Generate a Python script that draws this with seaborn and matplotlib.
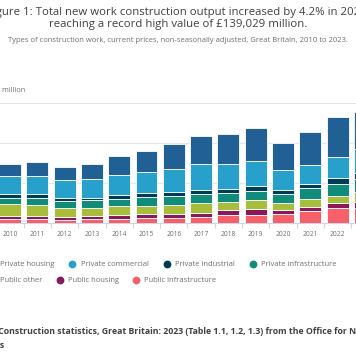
import matplotlib
matplotlib.use('Agg')
import matplotlib.pyplot as plt
from matplotlib.lines import Line2D
from matplotlib.ticker import FixedLocator
import pandas as pd
import seaborn as sns

# new work output, current prices, £ million
years = list(range(2010, 2024))
private_housing = [14600, 16700, 15900, 18300, 23800, 26250, 30800, 35000, 37900, 41250, 33300, 41700, 49600, 46800]
private_commercial = [23300, 23300, 22100, 23300, 25400, 27000, 29200, 32500, 31250, 31700, 25000, 23750, 26250, 29250]
private_industrial = [4200, 4200, 3700, 2900, 5000, 4200, 4600, 4600, 5000, 5800, 4600, 4600, 7900, 7900]
private_infrastructure = [7900, 9200, 9500, 9600, 8750, 11700, 11250, 12000, 11250, 11700, 11250, 14200, 14200, 16700]
public_other = [15000, 13300, 11200, 10000, 11250, 10400, 10800, 12100, 10000, 11250, 9200, 10000, 9500, 11700]
public_housing = [4100, 4200, 3000, 4200, 5000, 4600, 5000, 5400, 6700, 7100, 5000, 5000, 6250, 7500]
public_infrastructure = [4600, 5000, 4200, 5000, 5000, 6250, 6700, 7100, 9600, 10400, 11250, 15000, 18300, 19200]

series = ['Private housing', 'Private commercial', 'Private industrial',
          'Private infrastructure', 'Public other', 'Public housing',
          'Public infrastructure']
colors = ['#206095', '#27a0cc', '#003c57', '#118c7b', '#a8bd3a', '#871a5b', '#f66068']
y_ticks = [0, 50000, 100000, 150000]

df = pd.DataFrame({'year': years,
                   'Private housing': private_housing,
                   'Private commercial': private_commercial,
                   'Private industrial': private_industrial,
                   'Private infrastructure': private_infrastructure,
                   'Public other': public_other,
                   'Public housing': public_housing,
                   'Public infrastructure': public_infrastructure})
long = df.melt(id_vars='year', var_name='type', value_name='value')

sns.set_theme(style='white')
plt.rcParams['font.family'] = ['Open Sans', 'DejaVu Sans']

W, H = 356, 364
fig = plt.figure(figsize=(W / 100, H / 100), dpi=100)
# the picture is a crop of a wider chart: axes run past both edges
ax = fig.add_axes([-3.65 / W, (H - 223) / H, 382.2 / W, 120 / H])

sns.histplot(data=long, x='year', weights='value', hue='type',
             hue_order=series, palette=colors, multiple='stack',
             discrete=True, shrink=0.8, alpha=1, edgecolor='white',
             linewidth=0.6, legend=False, ax=ax, zorder=3)

ax.set_xlim(years[0] - 0.5, years[-1] + 0.5)
ax.set_ylim(0, 150000)
ax.set_xlabel('')
ax.set_ylabel('')
ax.set_xticks(years)
ax.set_xticklabels([str(y) for y in years])
ax.xaxis.set_minor_locator(FixedLocator([y - 0.5 for y in years] + [years[-1] + 0.5]))
ax.tick_params(axis='x', which='major', length=0, pad=5.5, labelsize=4.8, labelcolor='#707070')
ax.tick_params(axis='x', which='minor', length=3.6, width=0.8, color='#ccd6eb', bottom=True)
ax.set_yticks(y_ticks)
ax.tick_params(axis='y', length=0, labelleft=False)
ax.grid(axis='y', color='#e6e6e6', linewidth=0.8, zorder=0)
ax.set_axisbelow(True)
for s in ['top', 'right', 'left']:
    ax.spines[s].set_visible(False)
ax.spines['bottom'].set_color('#ccd6eb')
ax.spines['bottom'].set_linewidth(0.8)

fig.text(0.5, 1 - 12.3 / H,
         'Figure 1: Total new work construction output increased by 4.2% in 2023,',
         ha='center', va='center', fontsize=8.2, color='#414042')
fig.text(0.5, 1 - 25 / H,
         'reaching a record high value of £139,029 million.',
         ha='center', va='center', fontsize=8.2, color='#414042')
fig.text(0.5, 1 - 41 / H,
         'Types of construction work, current prices, non-seasonally adjusted, '
         'Great Britain, 2010 to 2023.',
         ha='center', va='center', fontsize=5.5, color='#707070')
fig.text(-3.5 / W, 1 - 90.7 / H, '£ million', ha='left', va='center',
         fontsize=5.2, color='#707070')

# legend laid out like the web chart: items flow along two rows
legend_rows = [(1 - 264 / H, [0, 1, 2, 3], [-8.4, 72.3, 166.7, 252.7]),
               (1 - 280.3 / H, [4, 5, 6], [-8.4, 60, 136])]
for ypos, idx, xs in legend_rows:
    for i, xm in zip(idx, xs):
        fig.add_artist(Line2D([xm / W], [ypos], transform=fig.transFigure,
                              marker='o', markersize=4.6, linestyle='none',
                              markerfacecolor=colors[i], markeredgecolor=colors[i]))
        fig.text((xm + 8.4) / W, ypos, series[i], ha='left', va='center',
                 fontsize=5.5, color='#707070')

fig.text(-35.6 / W, 1 - 331 / H,
         'Source: Construction statistics, Great Britain: 2023 (Table 1.1, 1.2, 1.3) '
         'from the Office for National',
         ha='left', va='center', fontsize=6.35, fontweight='bold', color='#414042')
fig.text(-35.6 / W, 1 - 345 / H, 'Statistics', ha='left', va='center',
         fontsize=6.35, fontweight='bold', color='#414042')

fig.savefig('out.png', dpi=100)
